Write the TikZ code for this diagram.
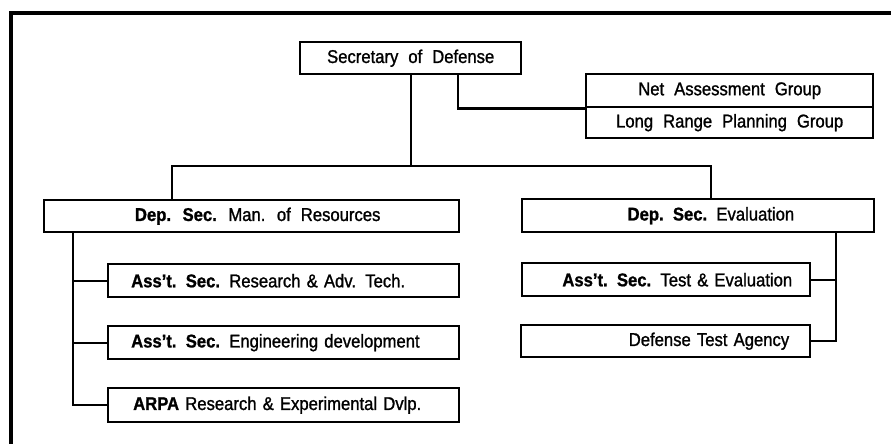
\documentclass[tikz,border=0pt]{standalone}
\usepackage{fontspec}
\setmainfont{Liberation Sans}[FakeStretch=0.9, FakeBold=1.2, BoldFeatures={FakeBold=1.0}]
\newcommand\orgfont{\fontsize{18.5}{21}\selectfont\spaceskip=10pt plus 2pt minus 1pt\relax}
\begin{document}
\begin{tikzpicture}[x=1pt,y=-1pt,
  orgbox/.style={draw, line width=2.4pt, rectangle, inner sep=0pt, anchor=north west, font={\orgfont}},
  link/.style={line width=2.4pt},
  frame/.style={line width=3.5pt}]
\useasboundingbox (0,0) rectangle (891,444);
\draw[frame] (11,444) -- (11,13) -- (891,13);

\node[orgbox, minimum width=221pt, minimum height=32pt] (sec) at (299,41) {Secretary of Defense};
\node[orgbox, minimum width=287pt, minimum height=33pt] (nag) at (585,73) {Net Assessment Group};
\node[orgbox, minimum width=287pt, minimum height=31pt] (lrpg) at (585,106) {Long Range Planning Group};

\node[orgbox, minimum width=415pt, minimum height=32pt] (mor) at (43,199) {\hspace*{12pt}\textbf{Dep. Sec.} Man. of Resources};
\node[orgbox, minimum height=33pt, inner xsep=80pt, text width=192pt, align=right] (eval) at (521,198) {\textbf{Dep. Sec.} Evaluation};

\node[orgbox, minimum height=33pt, inner xsep=23pt, text width=305pt, align=left] (rat) at (107,263) {\textbf{Ass't. Sec.} Research \& Adv. Tech.};
\node[orgbox, minimum height=33pt, inner xsep=23pt, text width=305pt, align=left] (eng) at (107,325) {\textbf{Ass't. Sec.} Engineering development};
\node[orgbox, minimum height=34pt, inner xsep=25pt, text width=301pt, align=left] (arpa) at (107,387) {\textbf{ARPA} Research \& Experimental Dvlp.};

\node[orgbox, minimum height=33pt, inner xsep=18pt, text width=252pt, align=right] (ate) at (521,262) {\textbf{Ass't. Sec.} Test \& Evaluation};
\node[orgbox, minimum height=32pt, inner xsep=21pt, text width=247pt, align=right] (dta) at (520,324) {Defense Test Agency};

\coordinate (barL) at (172,166);
\coordinate (barR) at (711,166);
\coordinate (sx) at (458,0);
\coordinate (lx) at (73,0);
\coordinate (rx) at (836,0);

\draw[link] (sec.south) -- (sec.south |- barL);
\draw[link] (mor.north -| barL) -- (barL) -- (barR) -- (barR |- eval.north);
\draw[link] (sec.south -| sx) |- (nag.south west);

\draw[link] (mor.south -| lx) |- (arpa.west);
\draw[link] (rat.west -| lx) -- (rat.west);
\draw[link] (eng.west -| lx) -- (eng.west);

\draw[link] (eval.south -| rx) |- (dta.east);
\draw[link] (ate.east -| rx) -- (ate.east);
\end{tikzpicture}
\end{document}
